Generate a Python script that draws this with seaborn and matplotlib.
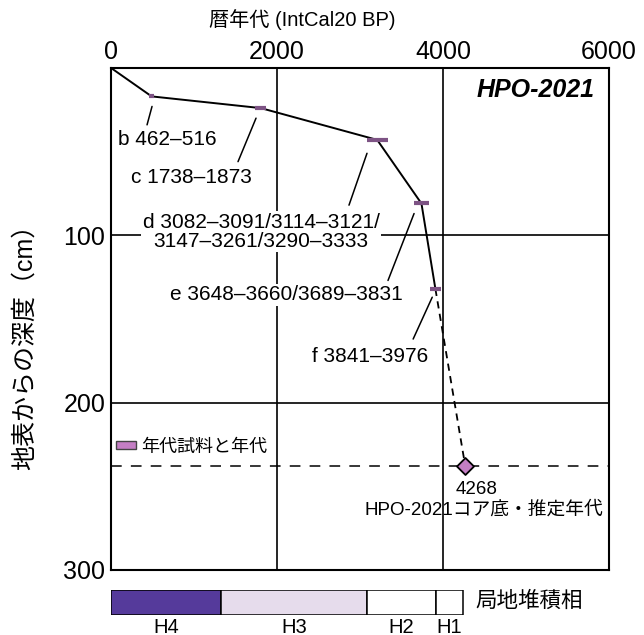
"""HPO-2021 age-depth model with local facies bar."""
import matplotlib
matplotlib.use("Agg")
import matplotlib.pyplot as plt
import pandas as pd
import seaborn as sns
from matplotlib.patches import Patch

# dated samples (cal BP ranges, depth cm)
sample_ids = ["b", "c", "d", "e", "f"]
age_lo = [462, 1738, 3082, 3648, 3841]
age_hi = [516, 1873, 3333, 3831, 3976]
depths = [17, 24, 43, 81, 132]
range_texts = ["462–516", "1738–1873", "3082–3091/3114–3121/\n3147–3261/3290–3333",
               "3648–3660/3689–3831", "3841–3976"]

# model line (top of core + sample midpoints)
model_age = [0, 489, 1805, 3207, 3740, 3908]
model_depth = [0, 17, 24, 43, 81, 132]

# estimated base of core
base_age = 4268
base_depth = 238

# local sedimentary facies
facies = ["H4", "H3", "H2", "H1"]
facies_start = [0, 1330, 3090, 3910]
facies_end = [1330, 3090, 3910, 4240]
facies_colors = ["#553a9b", "#e6dcec", "white", "white"]

sns.set_theme(style="white")
FAM = ["Liberation Sans", "Noto Sans CJK JP", "DejaVu Sans"]
plt.rcParams["font.family"] = FAM
for key in ("text.color", "axes.labelcolor", "xtick.color", "ytick.color"):
    plt.rcParams[key] = "black"

fig = plt.figure(figsize=(6.44, 6.35), dpi=100)
ax = fig.add_axes([0.1724, 0.1024, 0.7733, 0.7906])

df = pd.DataFrame({"age": model_age, "depth": model_depth})
sns.lineplot(data=df, x="age", y="depth", sort=False, estimator=None,
             color="black", lw=1.4, ax=ax, zorder=4)
ax.plot([model_age[-1], base_age], [model_depth[-1], base_depth],
        color="black", lw=1.3, ls=(0, (4, 3)), zorder=4)

# age range bars
ax.hlines(depths, age_lo, age_hi, color="#7d5384", lw=3, zorder=5)

# base marker
ax.scatter([base_age], [base_depth], marker="D", s=75, color="#c47ec4",
           edgecolor="black", linewidth=1.3, zorder=6)
ax.axhline(base_depth, color="black", lw=1.1, ls=(0, (7, 6)), zorder=2)

# grid
for gx in (2000, 4000):
    ax.axvline(gx, color="black", lw=1.2, zorder=1)
for gy in (100, 200):
    ax.axhline(gy, color="black", lw=1.2, zorder=1)

# labels with leader lines
label_pos = [(681, 43), (970, 65.7), (1807, 98), (2114, 135.5), (3120, 172.5)]
leader_from = [(494, 23), (1747, 30), (3084, 51), (3651, 87), (3870, 137)]
leader_to = [(434, 34), (1530, 56), (2867, 82), (3337, 127), (3640, 162)]
for sid, txt, lp, lf, lt in zip(sample_ids, range_texts, label_pos, leader_from, leader_to):
    ax.plot([lf[0], lt[0]], [lf[1], lt[1]], color="black", lw=1.1, zorder=3)
    ax.text(lp[0], lp[1], f"{sid} {txt}", ha="center", va="center", fontsize=15,
            linespacing=1.0, zorder=3,
            bbox=dict(facecolor="white", edgecolor="none", pad=1))

ax.text(4398, 252, str(base_age), ha="center", va="center", fontsize=13.5)
ax.text(4494, 264, "HPO-2021コア底・推定年代", ha="center", va="center", fontsize=13.5)
ax.text(0.97, 0.956, "HPO-2021", transform=ax.transAxes, ha="right", va="center",
        fontsize=18, fontweight="bold", fontstyle="italic")

ax.legend(handles=[Patch(facecolor="#c47ec4", edgecolor="#444444", lw=1)],
          labels=["年代試料と年代"], loc="center left", bbox_to_anchor=(-0.005, 0.245),
          frameon=False, fontsize=13, handlelength=1.1, handleheight=0.35,
          handletextpad=0.3, borderaxespad=0)

ax.set_xlim(0, 6000)
ax.set_ylim(300, 0)
ax.set_xticks([0, 2000, 4000, 6000])
ax.set_yticks([100, 200, 300])
ax.set_yticklabels(["100", "200", "300"])
ax.xaxis.tick_top()
ax.tick_params(axis="both", length=0, labelsize=18, pad=4)
ax.tick_params(axis="x", pad=3)
ax.set_xlabel("")
ax.set_ylabel("")
for sp in ax.spines.values():
    sp.set_color("black")
    sp.set_linewidth(1.5)

fig.text(302 / 644, 1 - 20 / 635, "暦年代 (IntCal20 BP)", ha="center", va="center",
         fontsize=14.5)
fig.text(25 / 644, 1 - 341 / 635, "地表からの深度（cm）", ha="center", va="center",
         rotation=90, fontsize=18)

# facies bar
bx = fig.add_axes([0.1724, 0.0315, 0.7733, 0.0395])
bx.barh([0] * len(facies), [e - s for s, e in zip(facies_start, facies_end)],
        left=facies_start, color=facies_colors, edgecolor="black", lw=1.1, height=1.0)
bx.set_xlim(0, 6000)
bx.set_ylim(-0.5, 0.5)
bx.axis("off")
for name, s, e in zip(facies, facies_start, facies_end):
    bx.text((s + e) / 2, -0.6, name, ha="center", va="top", fontsize=14.5)
bx.text(4390, 0.05, "局地堆積相", ha="left", va="center", fontsize=15.5)

fig.savefig("out.png", dpi=100)
